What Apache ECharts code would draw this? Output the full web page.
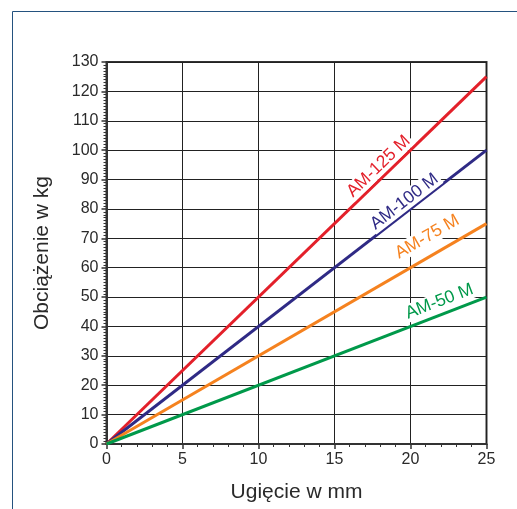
<!DOCTYPE html>
<html><head><meta charset="utf-8">
<script src="https://cdn.jsdelivr.net/npm/echarts@6/dist/echarts.min.js"></script>
<style>html,body{margin:0;padding:0;background:#fff}#c{width:517px;height:509px}</style>
</head><body><div id="c"></div>
<script>
const deflection = [0, 25];
const seriesNames = ['AM-125 M', 'AM-100 M', 'AM-75 M', 'AM-50 M'];
const am125 = [0, 125];
const am100 = [0, 100];
const am75 = [0, 75];
const am50 = [0, 50];
const colors = ['#e3202a', '#2f2a85', '#f5821f', '#00994a'];
const xTitle = 'Ugięcie w mm';
const yTitle = 'Obciążenie w kg';

// label anchors (layout) and rotation
const labelAnchors = [[17.9, 94.5], [19.6, 82.5], [21.1, 70.5], [21.9, 48.5]];
const labelRot = [44, 37.7, 30, 21];

const values = [am125, am100, am75, am50];
const chart = echarts.init(document.getElementById('c'), null, {renderer: 'canvas'});
const font = 'Liberation Sans, Arial, sans-serif';
chart.setOption({
  animation: false,
  backgroundColor: '#fff',
  graphic: [{type: 'rect', shape: {x: 12.5, y: 11.5, width: 520, height: 520}, style: {fill: 'none', stroke: '#24527f', lineWidth: 1}}],
  grid: {left: 106.5, right: 30.5, top: 62, bottom: 65, show: true, borderColor: '#333', borderWidth: 2, backgroundColor: 'transparent'},
  xAxis: {
    type: 'value', min: 0, max: 25, interval: 5,
    name: xTitle, nameLocation: 'middle', nameGap: 38,
    nameTextStyle: {fontFamily: font, fontSize: 21, color: '#2a2a2a'},
    axisLine: {show: true, onZero: false, lineStyle: {color: '#333', width: 2}},
    axisTick: {show: true, length: 5, lineStyle: {color: '#333', width: 1.5}},
    minorTick: {show: true, splitNumber: 5, length: 3, lineStyle: {color: '#333', width: 1}},
    axisLabel: {fontFamily: font, fontSize: 16, color: '#2a2a2a', margin: 8},
    splitLine: {show: true, lineStyle: {color: '#222', width: 1}}
  },
  yAxis: {
    type: 'value', min: 0, max: 130, interval: 10,
    name: yTitle, nameLocation: 'middle', nameGap: 54, nameRotate: 90,
    nameTextStyle: {fontFamily: font, fontSize: 21, color: '#2a2a2a'},
    axisLine: {show: true, onZero: false, lineStyle: {color: '#333', width: 2}},
    axisTick: {show: true, length: 5, lineStyle: {color: '#333', width: 1.5}},
    minorTick: {show: true, splitNumber: 10, length: 3, lineStyle: {color: '#333', width: 1}},
    axisLabel: {fontFamily: font, fontSize: 16, color: '#2a2a2a', margin: 8},
    splitLine: {show: true, lineStyle: {color: '#222', width: 1}}
  },
  series: values.map((v, i) => ({
    name: seriesNames[i], type: 'line', showSymbol: false, symbol: 'none',
    data: deflection.map((x, j) => [x, v[j]]),
    lineStyle: {color: colors[i], width: 3},
    z: 3,
    markPoint: {
      symbol: 'rect', symbolSize: 1, itemStyle: {color: 'transparent'},
      data: [{coord: labelAnchors[i], value: seriesNames[i]}],
      label: {show: true, position: 'inside', formatter: seriesNames[i], rotate: labelRot[i],
        color: colors[i], fontFamily: font, fontSize: 17.5, backgroundColor: '#fff', padding: [0, 2]}
    }
  }))
});
</script></body></html>
